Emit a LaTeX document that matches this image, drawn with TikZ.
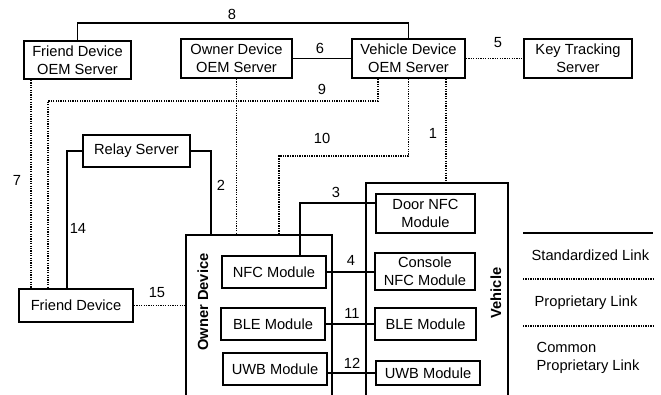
\documentclass[tikz,border=0pt]{standalone}
\usepackage{fontspec}
\setmainfont{Liberation Sans}
\usetikzlibrary{calc}

\begin{document}
\begin{tikzpicture}[x=0.75pt, y=-0.75pt, line cap=butt,
    box/.style={draw, line width=1.4pt, inner sep=0pt, align=center,
        font=\fontsize{11}{13.5}\selectfont},
    std/.style={line width=1.2pt},
    prop/.style={line width=1.3pt, dash pattern=on 1pt off 0.8pt},
    num/.style={font=\fontsize{11}{13.5}\selectfont},
    side/.style={rotate=90, font=\fontsize{11}{13.5}\selectfont\bfseries}]

    \useasboundingbox (0,0) rectangle (661,394);

    % servers
    \node[box, minimum width=107*0.75pt, minimum height=38*0.75pt] (fdoem) at (77.5,60) {Friend Device\\OEM Server};
    \node[box, minimum width=111*0.75pt, minimum height=39*0.75pt] (odoem) at (236.5,58.5) {Owner Device\\OEM Server};
    \node[box, minimum width=113*0.75pt, minimum height=39*0.75pt] (vdoem) at (408.5,58.5) {Vehicle Device\\OEM Server};
    \node[box, minimum width=108*0.75pt, minimum height=39*0.75pt] (kts) at (578,58.5) {Key Tracking\\Server};
    \node[box, minimum width=107*0.75pt, minimum height=32*0.75pt] (relay) at (136.5,151) {Relay Server};
    \node[box, minimum width=114*0.75pt, minimum height=33*0.75pt] (friend) at (76,305.5) {Friend Device};

    % owner device and vehicle
    \coordinate (OD) at (186,235);
    \coordinate (VH) at (366,183);
    \draw[line width=1.4pt] (186,400) -- (OD) -- (332,235) -- (332,400);
    \draw[line width=1.4pt] (366,400) -- (VH) -- (508,183) -- (508,400);
    \node[side] (odlbl) at (203,302) {Owner Device};
    \node[side] (vhlbl) at (496,293) {Vehicle};

    \node[box, minimum width=104*0.75pt, minimum height=32*0.75pt] (onfc) at (274,272) {NFC Module};
    \node[box, minimum width=104*0.75pt, minimum height=32*0.75pt] (oble) at (273,324) {BLE Module};
    \node[box, minimum width=104*0.75pt, minimum height=32*0.75pt] (ouwb) at (275,369) {UWB Module};

    \node[box, minimum width=99*0.75pt, minimum height=39*0.75pt] (dnfc) at (425.5,213.5) {Door NFC\\Module};
    \node[box, minimum width=100*0.75pt, minimum height=37*0.75pt] (cnfc) at (425,271.5) {Console\\NFC Module};
    \node[box, minimum width=101*0.75pt, minimum height=32*0.75pt] (vble) at (425.5,324) {BLE Module};
    \node[box, minimum width=104*0.75pt, minimum height=24*0.75pt] (vuwb) at (428,373) {UWB Module};

    % links
    \draw[std] (fdoem.north) -- ++(0,-17) -| (vdoem.north);
    \draw[std] (odoem.east) -- (odoem.east -| vdoem.west);
    \draw[prop] (vdoem.east) -- (kts.west);
    \draw[prop] ($(fdoem.south west)+(8,0)$) coordinate (a7) -- (a7 |- friend.north);
    \draw[prop] ($(vdoem.south west)+(27,0)$) -- ++(0,22) -| ($(friend.north west)+(30,0)$);
    \draw[prop] (odoem.south) -- (odoem.south |- OD);
    \draw[prop] (vdoem.south) -- ++(0,77) -| ($(OD)+(93,0)$);
    \draw[prop] ($(vdoem.south)+(37.5,0)$) coordinate (a1) -- (a1 |- VH);
    \draw[std] (relay.east) -- ++(20,0) coordinate (a2) -- (a2 |- OD);
    \draw[std] (relay.west) -- ++(-15,0) coordinate (a14) -- (a14 |- friend.north);
    \draw[prop] (friend.east) -- (friend.east -| OD);
    \draw[std] ($(onfc.north)+(26,0)$) |- ($(dnfc.north west)+(0,10)$);
    \draw[std] (onfc.east) -- (onfc.east -| cnfc.west);
    \draw[std] (oble.east) -- (oble.east -| vble.west);
    \draw[std] (vuwb.west) -- (vuwb.west -| ouwb.east);

    % link numbers
    \node[num] (n1) at (433,133) {1};
    \node[num] (n2) at (221,185) {2};
    \node[num] (n3) at (336,192) {3};
    \node[num] (n4) at (351,260) {4};
    \node[num] (n5) at (498,43) {5};
    \node[num] (n6) at (320,48) {6};
    \node[num] (n7) at (17,180) {7};
    \node[num] (n8) at (232,14) {8};
    \node[num] (n9) at (322,89) {9};
    \node[num] (n10) at (322,138) {10};
    \node[num] (n11) at (352,313) {11};
    \node[num] (n12) at (352,363) {12};
    \node[num] (n14) at (78,228) {14};
    \node[num] (n15) at (157,293) {15};

    % legend
    \coordinate (lg1) at (523,233);
    \coordinate (lg2) at (523,279);
    \coordinate (lg3) at (523,326);
    \draw[line width=1.6pt] (lg1) -- ++(130,0);
    \draw[prop] (lg2) -- ++(131,0);
    \draw[prop] (lg3) -- ++(131,0);
    \node[num, anchor=west] (std) at (527,255) {Standardized Link};
    \node[num, anchor=west] (prop) at (530,303) {Proprietary Link};
    \node[num, anchor=west, align=left] (cprop) at (532,358) {Common\\Proprietary Link};
\end{tikzpicture}
\end{document}
